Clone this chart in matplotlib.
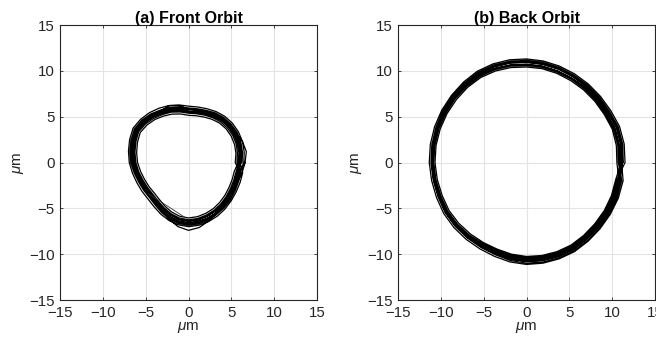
import numpy as np
import matplotlib.pyplot as plt

plt.rcParams['font.family'] = ['Liberation Sans', 'DejaVu Sans']
plt.rcParams['mathtext.fontset'] = 'custom'
plt.rcParams['mathtext.it'] = 'Liberation Sans:italic'
plt.rcParams['mathtext.rm'] = 'Liberation Sans'

# orbit radius (um) sampled every 10 degrees, one list per revolution
angles_deg = list(range(0, 360, 10))

front_loops = [
    [6.25, 6.4, 6.5, 6.55, 6.5, 6.4, 6.25, 6.05, 5.95, 5.95, 6.15, 6.4, 6.6, 6.9, 7.15, 7.3, 7.15, 6.95,
     6.75, 6.45, 6.2, 6.05, 5.95, 6.05, 6.3, 6.55, 6.75, 6.85, 6.8, 6.7, 6.55, 6.45, 6.35, 6.25, 6.2, 6.22],
    [5.65, 5.8, 5.92, 5.95, 5.9, 5.8, 5.65, 5.5, 5.4, 5.38, 5.6, 5.85, 6.05, 6.3, 6.55, 6.72, 6.55, 6.35,
     6.15, 5.9, 5.65, 5.5, 5.42, 5.5, 5.7, 5.95, 6.15, 6.25, 6.2, 6.1, 6.0, 5.88, 5.75, 5.65, 5.62, 5.64],
    [5.9, 6.1, 6.25, 6.35, 6.35, 6.25, 6.1, 5.95, 5.85, 5.82, 6.02, 6.25, 6.45, 6.72, 6.95, 7.1, 6.9, 6.65,
     6.4, 6.1, 5.85, 5.7, 5.6, 5.65, 5.85, 6.1, 6.3, 6.4, 6.35, 6.25, 6.15, 6.05, 5.95, 5.88, 5.86, 5.88],
    [6.05, 6.18, 6.22, 6.2, 6.12, 6.0, 5.8, 5.62, 5.5, 5.5, 5.72, 5.98, 6.22, 6.5, 6.75, 6.95, 6.82, 6.68,
     6.52, 6.3, 6.08, 5.95, 5.85, 5.92, 6.15, 6.42, 6.62, 6.72, 6.66, 6.55, 6.42, 6.3, 6.18, 6.08, 6.05, 6.06],
    [6.45, 6.6, 6.7, 6.72, 6.68, 6.58, 6.42, 6.25, 6.15, 6.15, 6.38, 6.62, 6.85, 7.1, 7.32, 7.48, 7.32, 7.12,
     6.92, 6.65, 6.42, 6.28, 6.18, 6.28, 6.5, 6.72, 6.9, 7.0, 6.95, 6.85, 6.75, 6.62, 6.5, 6.42, 6.4, 6.42],
    [6.0, 6.15, 6.28, 6.3, 6.25, 6.1, 5.9, 5.72, 5.62, 5.6, 5.82, 6.08, 6.3, 6.58, 6.8, 7.0, 6.88, 6.7,
     6.5, 6.22, 5.98, 5.82, 5.72, 5.8, 6.02, 6.28, 6.48, 6.6, 6.55, 6.45, 6.35, 6.2, 6.08, 5.98, 5.95, 5.96],
    [6.1, 6.28, 6.38, 6.4, 6.36, 6.27, 6.1, 5.92, 5.82, 5.8, 6.02, 6.27, 6.5, 6.77, 7.0, 7.17, 7.0, 6.8,
     6.6, 6.33, 6.1, 5.95, 5.85, 5.93, 6.15, 6.4, 6.6, 6.7, 6.65, 6.55, 6.45, 6.32, 6.2, 6.1, 6.07, 6.08],
    [5.45, 5.62, 5.72, 5.75, 5.72, 5.62, 5.45, 5.28, 5.18, 5.15, 5.38, 5.62, 5.85, 6.12, 6.35, 6.52, 6.35, 6.15,
     5.95, 5.68, 5.45, 5.3, 5.2, 5.28, 5.5, 5.75, 5.95, 6.05, 6.0, 5.9, 5.8, 5.67, 5.55, 5.45, 5.42, 5.43],
    [5.8, 5.97, 6.07, 6.1, 6.07, 5.97, 5.8, 5.63, 5.52, 5.5, 5.73, 5.97, 6.2, 6.47, 6.7, 6.87, 6.7, 6.5,
     6.3, 6.03, 5.8, 5.65, 5.55, 5.63, 5.85, 6.1, 6.3, 6.4, 6.35, 6.25, 6.15, 6.02, 5.9, 5.8, 5.77, 5.78],
    [6.15, 6.3, 6.35, 6.32, 6.2, 6.05, 5.85, 5.7, 5.6, 5.6, 5.85, 6.15, 6.42, 6.7, 6.9, 7.08, 6.95, 6.8,
     6.6, 6.3, 6.02, 5.85, 5.75, 5.85, 6.1, 6.35, 6.52, 6.6, 6.55, 6.48, 6.38, 6.25, 6.12, 6.02, 6.0, 6.05],
    [6.6, 6.85, 6.7, 6.4, 6.3, 6.15, 5.95, 5.8, 5.75, 5.85, 6.3, 6.6, 6.5, 6.7, 6.9, 7.05, 6.85, 6.65,
     6.45, 6.15, 5.92, 5.78, 5.7, 5.8, 6.1, 6.6, 7.1, 7.4, 7.2, 6.8, 6.45, 6.2, 6.08, 6.0, 6.1, 6.35],
]

# short jump in the front trace (x, y in um)
front_jump_x = [-4.6, -0.4]
front_jump_y = [-3.45, -6.0]

back_loops = [
    [11.3, 11.4, 11.38, 11.18, 11.1, 11.05, 11.02, 11.05, 11.1, 11.15, 11.22, 11.3, 11.35, 11.3, 11.28, 11.28, 11.25, 11.22,
     11.15, 11.05, 10.98, 10.95, 10.85, 10.75, 10.68, 10.7, 10.85, 10.98, 11.02, 11.05, 11.1, 11.08, 11.1, 11.18, 11.25, 11.28],
    [10.72, 10.82, 10.8, 10.62, 10.55, 10.5, 10.48, 10.5, 10.55, 10.58, 10.68, 10.78, 10.85, 10.85, 10.85, 10.85, 10.88, 10.88,
     10.85, 10.75, 10.65, 10.62, 10.5, 10.35, 10.22, 10.18, 10.28, 10.38, 10.42, 10.48, 10.52, 10.5, 10.52, 10.6, 10.7, 10.72],
    [11.5, 11.58, 11.55, 11.35, 11.25, 11.2, 11.18, 11.2, 11.25, 11.3, 11.38, 11.45, 11.5, 11.45, 11.42, 11.42, 11.42, 11.4,
     11.35, 11.25, 11.18, 11.15, 11.05, 10.95, 10.88, 10.9, 11.02, 11.12, 11.15, 11.18, 11.22, 11.2, 11.22, 11.3, 11.4, 11.45],
    [11.1, 11.25, 11.22, 11.0, 10.92, 10.9, 10.88, 10.92, 10.98, 11.02, 11.12, 11.2, 11.22, 11.18, 11.12, 11.1, 11.08, 11.05,
     10.98, 10.86, 10.78, 10.75, 10.6, 10.45, 10.35, 10.3, 10.45, 10.58, 10.62, 10.68, 10.72, 10.7, 10.75, 10.85, 10.95, 11.02],
    [10.9, 10.98, 10.98, 10.8, 10.72, 10.68, 10.62, 10.62, 10.66, 10.7, 10.8, 10.92, 11.0, 11.02, 11.02, 11.05, 11.08, 11.1,
     11.08, 11.0, 10.92, 10.9, 10.8, 10.68, 10.6, 10.58, 10.7, 10.78, 10.82, 10.85, 10.9, 10.88, 10.88, 10.96, 11.0, 10.95],
    [10.55, 10.65, 10.65, 10.48, 10.4, 10.35, 10.32, 10.35, 10.4, 10.42, 10.52, 10.62, 10.7, 10.7, 10.68, 10.7, 10.72, 10.72,
     10.68, 10.58, 10.48, 10.45, 10.32, 10.18, 10.08, 10.05, 10.15, 10.25, 10.3, 10.35, 10.4, 10.38, 10.4, 10.48, 10.55, 10.58],
    [11.05, 11.15, 11.15, 10.95, 10.85, 10.82, 10.8, 10.82, 10.85, 10.9, 11.0, 11.08, 11.12, 11.08, 11.05, 11.02, 11.02, 11.0,
     10.96, 10.88, 10.8, 10.76, 10.65, 10.52, 10.42, 10.38, 10.5, 10.62, 10.68, 10.72, 10.78, 10.76, 10.78, 10.86, 10.95, 11.02],
    [11.2, 11.32, 11.3, 11.08, 11.0, 10.95, 10.92, 10.95, 11.0, 11.05, 11.12, 11.2, 11.25, 11.2, 11.18, 11.18, 11.15, 11.12,
     11.06, 10.96, 10.88, 10.85, 10.75, 10.62, 10.55, 10.55, 10.68, 10.8, 10.85, 10.9, 10.95, 10.92, 10.95, 11.05, 11.12, 11.15],
    [10.85, 10.95, 10.92, 10.72, 10.65, 10.6, 10.58, 10.6, 10.65, 10.7, 10.78, 10.88, 10.95, 10.95, 10.95, 10.95, 10.96, 10.95,
     10.92, 10.82, 10.72, 10.7, 10.58, 10.45, 10.32, 10.3, 10.4, 10.5, 10.55, 10.6, 10.65, 10.62, 10.65, 10.72, 10.82, 10.85],
    [11.15, 11.28, 11.25, 11.05, 10.98, 10.92, 10.9, 10.92, 10.95, 11.0, 11.08, 11.18, 11.25, 11.22, 11.18, 11.15, 11.12, 11.1,
     11.05, 10.95, 10.88, 10.84, 10.72, 10.58, 10.5, 10.48, 10.6, 10.72, 10.78, 10.82, 10.86, 10.84, 10.86, 10.95, 11.05, 11.1],
]

ticks = [-15, -10, -5, 0, 5, 10, 15]
titles = ['(a) Front Orbit', '(b) Back Orbit']
text_color = '#262626'


def loops_to_xy(loops):
    theta = np.deg2rad(np.array(angles_deg * len(loops) + angles_deg[:1]))
    r = np.concatenate([np.asarray(l) for l in loops] + [np.asarray(loops[-1][:1])])
    return r * np.cos(theta), r * np.sin(theta)


def style_axes(ax, title):
    ax.set_xlim(-15, 15)
    ax.set_ylim(-15, 15)
    ax.set_xticks(ticks)
    ax.set_yticks(ticks)
    ax.grid(True, color='#e3e3e3', linewidth=0.8)
    ax.set_axisbelow(True)
    ax.tick_params(direction='in', length=2.5, width=0.6, top=True, right=True,
                   labelsize=10.8, colors=text_color, pad=4)
    for s in ax.spines.values():
        s.set_color(text_color)
        s.set_linewidth(0.8)
    ax.set_title(title, fontsize=11.5, fontweight='bold', color='black', pad=1.5)
    ax.set_xlabel(r'$\mu$m', fontsize=11, color=text_color, labelpad=0)
    ax.set_ylabel(r'$\mu$m', fontsize=11, color=text_color, labelpad=2)


fig = plt.figure(figsize=(6.56, 3.39), dpi=100)
ax1 = fig.add_axes([0.0915, 0.115, 0.3918, 0.8112])
ax2 = fig.add_axes([0.6067, 0.115, 0.3918, 0.8112])

fx, fy = loops_to_xy(front_loops)
ax1.plot(fx, fy, color='black', linewidth=0.9)
ax1.plot(front_jump_x, front_jump_y, color='#333333', linewidth=0.6)
style_axes(ax1, titles[0])

bx, by = loops_to_xy(back_loops)
ax2.plot(bx, by, color='black', linewidth=0.9)
style_axes(ax2, titles[1])

fig.savefig('out.png', dpi=100)
